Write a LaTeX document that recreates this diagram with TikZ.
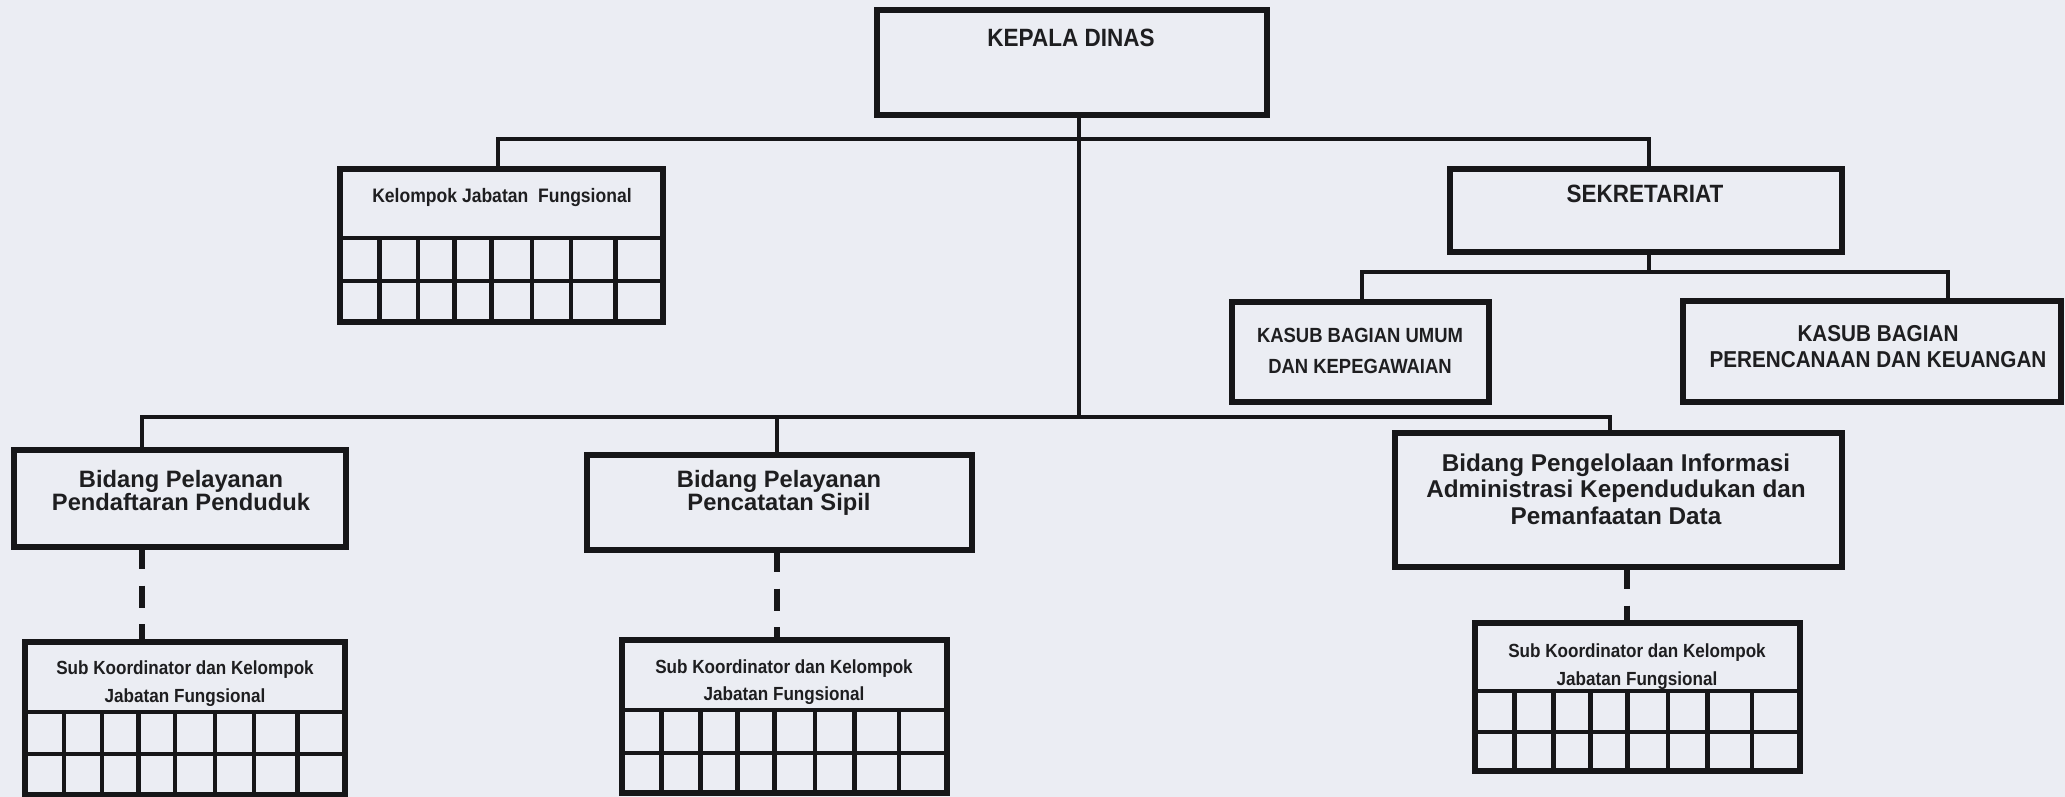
\documentclass[tikz,border=0pt]{standalone}
\usepackage{fontspec}
\usetikzlibrary{calc}
\newfontfamily\fN{Liberation Sans}[FakeStretch=0.9]
\newfontfamily\fW{Liberation Sans}
\definecolor{ink}{RGB}{22,22,24}
\definecolor{txt}{RGB}{30,30,32}
\definecolor{bg}{RGB}{235,237,243}
\tikzset{
  box/.style={rectangle, draw=ink, line width=5.2pt, inner sep=0pt, outer sep=0pt},
  gridline/.style={draw=ink, line width=4.6pt},
  conn/.style={draw=ink, line width=4.6pt},
  dashconn/.style={draw=ink, line width=6pt, dash pattern=on 22pt off 16.5pt},
  lbl/.style={anchor=base, inner sep=0pt, outer sep=0pt, text=txt},
}
\newcommand\mkgrid[7]{%
  \node[box, anchor=north west, minimum width={#4-#2}, minimum height={#5-#3}] (#1) at (#2,#3) {};
  \draw[gridline] (#2,#6) -- (#4,#6);
  \draw[gridline] (#2,#7) -- (#4,#7);
  \foreach \f in {0.122,0.241,0.355,0.469,0.594,0.715,0.852}
    \draw[gridline] ({#2+\f*(#4-#2)},#6) -- ({#2+\f*(#4-#2)},#5);
}
\begin{document}
\begin{tikzpicture}[x=1pt,y=-1pt]
\clip (0,0) rectangle (2065,797);
\fill[bg] (0,0) rectangle (2065,797);

% boxes
\node[box, anchor=north west, minimum width=390, minimum height=105] (kepala) at (877,10) {};
\node[box, anchor=north west, minimum width=392, minimum height=83] (sek) at (1450,169) {};
\node[box, anchor=north west, minimum width=257, minimum height=100] (ku) at (1232,302) {};
\node[box, anchor=north west, minimum width=378, minimum height=101] (kp) at (1683,301) {};
\node[box, anchor=north west, minimum width=332, minimum height=97] (bid1) at (14,450) {};
\node[box, anchor=north west, minimum width=385, minimum height=95] (bid2) at (587,455) {};
\node[box, anchor=north west, minimum width=447, minimum height=134] (bid3) at (1395,433) {};
\mkgrid{kjf}{340}{169}{663}{322}{238}{281}
\mkgrid{sub1}{25}{642}{345}{795}{712}{754}
\mkgrid{sub2}{622}{640}{947}{793}{710}{753}
\mkgrid{sub3}{1475}{623}{1800}{771}{691}{732}

% junction coordinates
\coordinate (busA) at (1079,139);
\coordinate (busB) at (1079,417);
\coordinate (jk) at (498,139);
\coordinate (js) at (1649,139);
\coordinate (busS) at (1649,272);
\coordinate (jku) at (1362,272);
\coordinate (jkp) at (1948,272);
\coordinate (j1) at (142,417);
\coordinate (j2) at (777,417);
\coordinate (j3) at (1610,417);
\coordinate (d3) at (1627,600);

% connectors
\draw[conn] (kepala.south -| busA) -- (busB);
\draw[conn] (jk |- kjf.north) -- (jk) -- (js) -- (js |- sek.north);
\draw[conn] (sek.south -| busS) -- (busS);
\draw[conn] (jku |- ku.north) -- (jku) -- (jkp) -- (jkp |- kp.north);
\draw[conn] (j1 |- bid1.north) -- (j1) -- (j3) -- (j3 |- bid3.north);
\draw[conn] (j2) -- (j2 |- bid2.north);
\draw[dashconn] (j1 |- bid1.south) -- (j1 |- sub1.north);
\draw[dashconn] (j2 |- bid2.south) -- (j2 |- sub2.north);
\draw[dashconn] (d3 |- bid3.south) -- (d3 |- sub3.north);

% texts
\node[lbl, font={\fN\bfseries\fontsize{25}{30}\selectfont}] (t-kepala) at (1071,47) {KEPALA DINAS};
\node[lbl, font={\fN\bfseries\fontsize{25}{30}\selectfont}] (t-sek) at (1645,203) {SEKRETARIAT};
\node[lbl, font={\fN\bfseries\fontsize{19.5}{24}\selectfont}] (t-kjf) at (502,202) {Kelompok Jabatan~ Fungsional};

\node[lbl, font={\fN\bfseries\fontsize{20.5}{24}\selectfont}] (t-ku1) at (1360,342) {KASUB BAGIAN UMUM};
\node[lbl, font={\fN\bfseries\fontsize{20.5}{24}\selectfont}] (t-ku2) at (1360,373) {DAN KEPEGAWAIAN};
\node[lbl, font={\fN\bfseries\fontsize{23}{27}\selectfont}] (t-kp1) at (1878,341) {KASUB BAGIAN};
\node[lbl, font={\fN\bfseries\fontsize{23}{27}\selectfont}] (t-kp2) at (1878,367) {PERENCANAAN DAN KEUANGAN};

\node[lbl, font={\fW\bfseries\fontsize{23.7}{24}\selectfont}] (t-b1a) at (181,487) {Bidang Pelayanan};
\node[lbl, font={\fW\bfseries\fontsize{23.7}{24}\selectfont}] (t-b1b) at (181,510) {Pendaftaran Penduduk};
\node[lbl, font={\fW\bfseries\fontsize{23.7}{24}\selectfont}] (t-b2a) at (779,487) {Bidang Pelayanan};
\node[lbl, font={\fW\bfseries\fontsize{23.7}{24}\selectfont}] (t-b2b) at (779,510) {Pencatatan Sipil};
\node[lbl, font={\fW\bfseries\fontsize{24.3}{26}\selectfont}] (t-b3a) at (1616,471) {Bidang Pengelolaan Informasi};
\node[lbl, font={\fW\bfseries\fontsize{24.3}{26}\selectfont}] (t-b3b) at (1616,497) {Administrasi Kependudukan dan};
\node[lbl, font={\fW\bfseries\fontsize{24.3}{26}\selectfont}] (t-b3c) at (1616,524) {Pemanfaatan Data};

\node[lbl, font={\fN\bfseries\fontsize{19}{23}\selectfont}] (t-s1a) at (185,674) {Sub Koordinator dan Kelompok};
\node[lbl, font={\fN\bfseries\fontsize{19}{23}\selectfont}] (t-s1b) at (185,702) {Jabatan Fungsional};
\node[lbl, font={\fN\bfseries\fontsize{19}{23}\selectfont}] (t-s2a) at (784,673) {Sub Koordinator dan Kelompok};
\node[lbl, font={\fN\bfseries\fontsize{19}{23}\selectfont}] (t-s2b) at (784,700) {Jabatan Fungsional};
\node[lbl, font={\fN\bfseries\fontsize{19}{23}\selectfont}] (t-s3a) at (1637,657) {Sub Koordinator dan Kelompok};
\node[lbl, font={\fN\bfseries\fontsize{19}{23}\selectfont}] (t-s3b) at (1637,685) {Jabatan Fungsional};
\end{tikzpicture}
\end{document}
